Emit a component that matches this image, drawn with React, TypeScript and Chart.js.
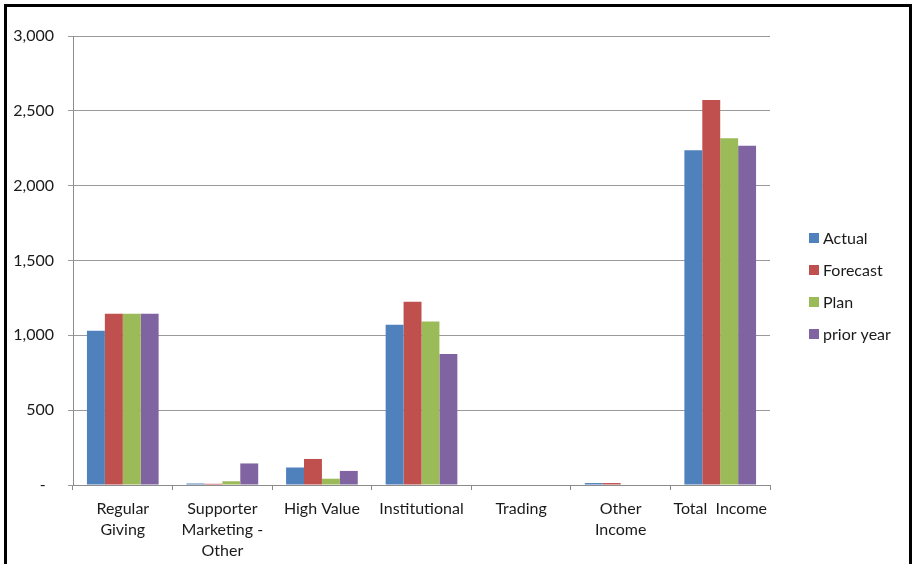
import React, { useEffect, useRef } from "react";
import { Chart, registerables } from "chart.js";

Chart.register(...registerables);

const categories: string[][] = [
  ["Regular", "Giving"],
  ["Supporter", "Marketing -", "Other"],
  ["High Value"],
  ["Institutional"],
  ["Trading"],
  ["Other", "Income"],
  ["Total  Income"],
];

const actual = [1030, 10, 117, 1071, 0, 13, 2237];
const forecast = [1145, 8, 174, 1224, 0, 13, 2573];
const plan = [1145, 25, 42, 1093, 0, 0, 2316];
const priorYear = [1145, 144, 94, 875, 0, 0, 2266];

const seriesNames = ["Actual", "Forecast", "Plan", "prior year"];
const seriesColors = ["#4F81BD", "#C0504D", "#9BBB59", "#8064A2"];

const yMax = 3000;
const yStep = 500;

const FONT = "Lato, 'Open Sans', sans-serif";
const TEXT = "#1a1a1a";

// Legend drawn to the right of the plot, from the dataset labels and colours.
const sideLegend = {
  id: "sideLegend",
  afterDraw(chart: any) {
    const ctx = chart.ctx;
    const datasets = chart.data.datasets;
    ctx.save();
    ctx.font = `16px ${FONT}`;
    ctx.textBaseline = "middle";
    ctx.textAlign = "left";
    const x0 = 809;
    const y0 = 238;
    const gap = 32;
    datasets.forEach((ds: any, i: number) => {
      const cy = y0 + i * gap;
      ctx.fillStyle = ds.backgroundColor;
      ctx.fillRect(x0, cy - 5, 10, 10);
      ctx.fillStyle = TEXT;
      ctx.fillText(ds.label, x0 + 14, cy + 1);
    });
    ctx.restore();
  },
};

export default function App() {
  const canvasRef = useRef<HTMLCanvasElement | null>(null);

  useEffect(() => {
    if (!canvasRef.current) return;
    const series = [actual, forecast, plan, priorYear];
    const chart = new Chart(canvasRef.current, {
      type: "bar",
      data: {
        labels: categories,
        datasets: series.map((values, i) => ({
          label: seriesNames[i],
          data: values,
          backgroundColor: seriesColors[i],
          borderWidth: 0,
          categoryPercentage: 0.72,
          barPercentage: 1,
        })),
      },
      options: {
        responsive: false,
        animation: false,
        devicePixelRatio: 1,
        layout: { padding: { top: 36, right: 143, bottom: 0, left: 0 } },
        plugins: {
          legend: { display: false },
          tooltip: { enabled: false },
        },
        scales: {
          x: {
            grid: {
              drawOnChartArea: false,
              drawTicks: true,
              tickLength: 5,
              color: "#8c8c8c",
              offset: true,
            },
            border: { color: "#8c8c8c", width: 1 },
            ticks: {
              color: TEXT,
              font: { family: FONT, size: 16, lineHeight: 1.31 },
              padding: 8,
              maxRotation: 0,
              autoSkip: false,
            },
            afterFit(scale: any) {
              scale.height = 79;
            },
          },
          y: {
            min: 0,
            max: yMax,
            grid: {
              color: "#9a9a9a",
              drawTicks: true,
              tickLength: 5,
            },
            border: { color: "#8c8c8c", width: 1 },
            ticks: {
              stepSize: yStep,
              color: TEXT,
              padding: 14,
              font: { family: FONT, size: 16 },
              callback: (v: any) =>
                Number(v) === 0 ? "-  " : Number(v).toLocaleString("en-US"),
            },
            afterFit(scale: any) {
              scale.width = 73;
            },
          },
        },
      },
      plugins: [sideLegend],
    });
    return () => chart.destroy();
  }, []);

  return (
    <div style={{ position: "fixed", left: 0, top: 0, width: 913, height: 564, background: "#fff" }}>
      <canvas
        ref={canvasRef}
        width={913}
        height={564}
        style={{ position: "absolute", left: 0, top: 0, width: 913, height: 564 }}
      />
      <div
        style={{
          position: "absolute",
          left: 4,
          top: 4,
          width: 908,
          height: 570,
          boxSizing: "border-box",
          border: "3px solid #000",
          borderBottom: "none",
          pointerEvents: "none",
        }}
      />
    </div>
  );
}
